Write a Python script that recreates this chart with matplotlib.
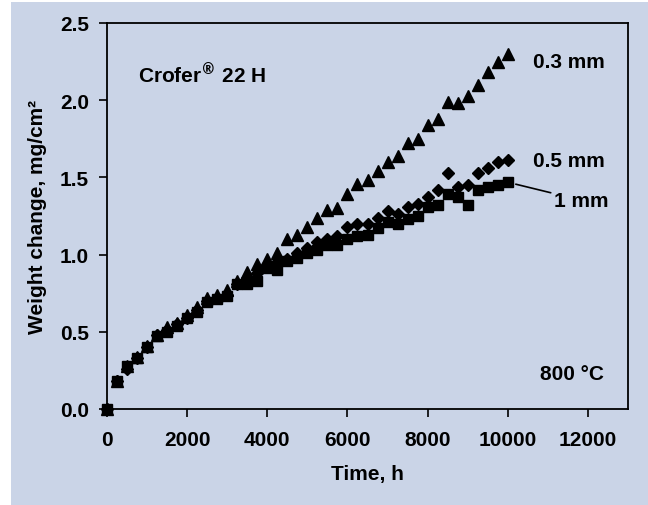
import matplotlib
matplotlib.use("Agg")
import matplotlib.pyplot as plt
from matplotlib.patches import Rectangle

# oxidation time, h (every 250 h)
hours = [0, 250, 500, 750, 1000, 1250, 1500, 1750, 2000, 2250, 2500, 2750,
         3000, 3250, 3500, 3750, 4000, 4250, 4500, 4750, 5000, 5250, 5500,
         5750, 6000, 6250, 6500, 6750, 7000, 7250, 7500, 7750, 8000, 8250,
         8500, 8750, 9000, 9250, 9500, 9750, 10000]

# weight change, mg/cm2
w_03mm = [0.0, 0.18, 0.28, 0.34, 0.41, 0.48, 0.53, 0.56, 0.61, 0.66, 0.72,
          0.74, 0.77, 0.83, 0.89, 0.94, 0.97, 1.01, 1.10, 1.13, 1.18, 1.24,
          1.29, 1.30, 1.39, 1.46, 1.48, 1.54, 1.60, 1.64, 1.72, 1.75, 1.84,
          1.88, 1.99, 1.98, 2.03, 2.10, 2.18, 2.25, 2.30]
w_05mm = [0.0, 0.18, 0.26, 0.33, 0.40, 0.48, 0.51, 0.55, 0.59, 0.64, 0.70,
          0.72, 0.74, 0.81, 0.85, 0.88, 0.93, 0.95, 0.97, 1.01, 1.04, 1.08,
          1.10, 1.12, 1.18, 1.20, 1.20, 1.24, 1.28, 1.26, 1.31, 1.33, 1.37,
          1.42, 1.53, 1.44, 1.45, 1.53, 1.56, 1.60, 1.61]
w_1mm = [0.0, 0.18, 0.28, 0.33, 0.40, 0.47, 0.50, 0.54, 0.59, 0.63, 0.69,
         0.71, 0.73, 0.81, 0.81, 0.83, 0.91, 0.90, 0.96, 0.98, 1.01, 1.03,
         1.06, 1.06, 1.10, 1.12, 1.13, 1.17, 1.21, 1.20, 1.23, 1.25, 1.31,
         1.32, 1.39, 1.37, 1.32, 1.42, 1.44, 1.45, 1.47]

x_ticks = [0, 2000, 4000, 6000, 8000, 10000, 12000]
y_ticks = [0.0, 0.5, 1.0, 1.5, 2.0, 2.5]

bg = '#cad4e7'
plt.rcParams['font.family'] = ['Liberation Sans', 'DejaVu Sans']
plt.rcParams['font.weight'] = 'bold'
plt.rcParams['font.size'] = 15

fig = plt.figure(figsize=(6.48, 5.06), dpi=100)
fig.patch.set_facecolor('white')
fig.patches.append(Rectangle((11 / 648, 0), 1 - 11 / 648, 1 - 3 / 506,
                             transform=fig.transFigure, facecolor=bg,
                             edgecolor='none', zorder=-10))

ax = fig.add_axes([107 / 648, 1 - 410 / 506, 521 / 648, 386 / 506])
ax.set_facecolor(bg)

ax.plot(hours, w_03mm, '^', color='black', ms=8, clip_on=False)
ax.plot(hours, w_05mm, 'D', color='black', ms=6.5, clip_on=False)
ax.plot(hours, w_1mm, 's', color='black', ms=7.5, clip_on=False)

ax.set_xlim(0, 13000)
ax.set_ylim(0, 2.5)
ax.set_xticks(x_ticks)
ax.set_yticks(y_ticks)
ax.set_yticklabels(['%.1f' % v for v in y_ticks])
ax.tick_params(direction='out', length=6, width=1.2, labelsize=15)
ax.tick_params(axis='x', pad=9)
ax.tick_params(axis='y', pad=7)
for s in ax.spines.values():
    s.set_linewidth(1.3)

ax.set_xlabel('Time, h', fontsize=15, fontweight='bold', labelpad=11)
ax.set_ylabel('Weight change, mg/cm²', fontsize=15, fontweight='bold',
              labelpad=9)

ax.text(775, 2.17, 'Crofer$^{\\circledR}$ 22 H', fontsize=15, va='center')
ax.text(10625, 2.253, '0.3 mm', fontsize=15, va='center')
ax.text(10625, 1.612, '0.5 mm', fontsize=15, va='center')
ax.annotate('1 mm', xy=(10200, 1.456), xytext=(11142, 1.353), fontsize=15,
            va='center', arrowprops=dict(arrowstyle='-', lw=1.2,
                                         color='black', shrinkA=0, shrinkB=0))
ax.text(10808, 0.227, '800 °C', fontsize=15, va='center')

fig.savefig('out.png', dpi=100, facecolor=fig.get_facecolor())
